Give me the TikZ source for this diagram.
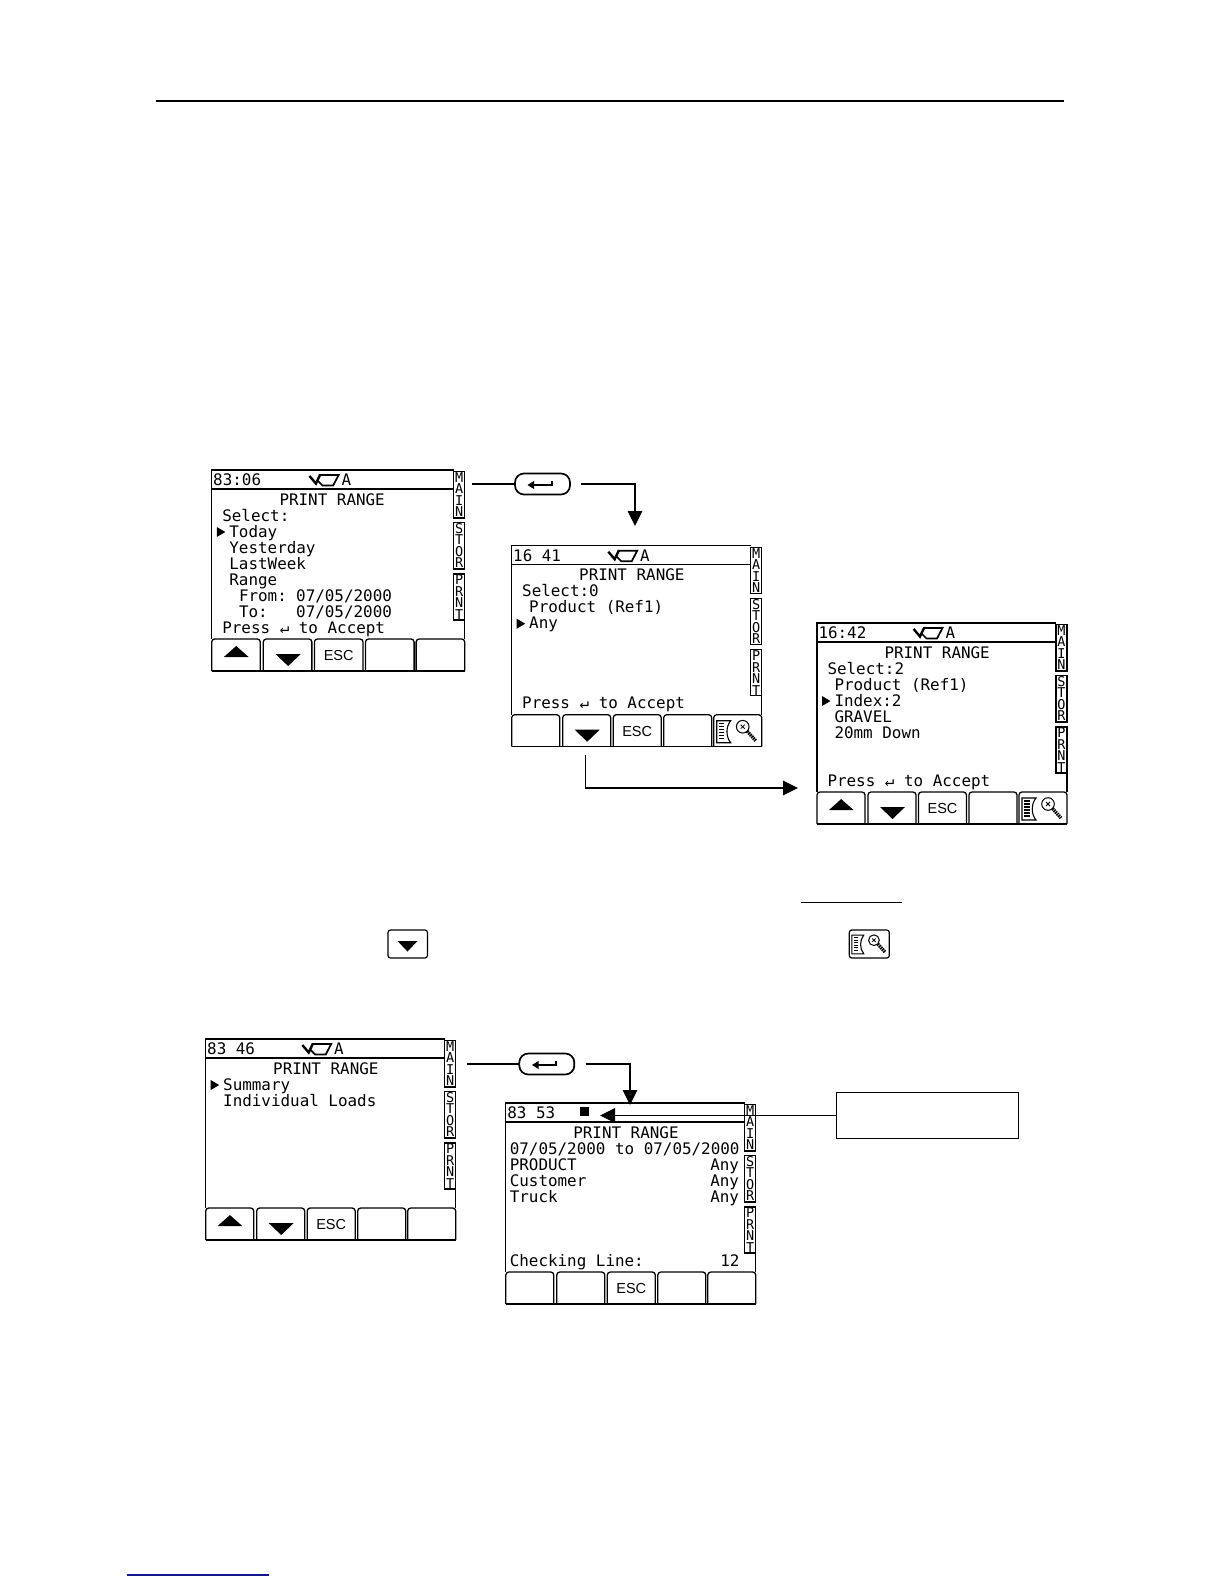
\documentclass[tikz,border=0pt]{standalone}
\usepackage{fontspec}
\usetikzlibrary{arrows.meta}
\newfontfamily\lcdfont{DejaVu Sans Mono}
\newfontfamily\keyfont{Liberation Sans}
\newcount\lcdn
\tikzset{
  lcdline/.style={line width=1.3pt,black},
  lcdtext/.style={anchor=base west,inner sep=0pt,outer sep=0pt,font=\lcdfont\fontsize{15.9}{16}\selectfont},
  tabtext/.style={anchor=center,inner sep=0pt,outer sep=0pt,font=\lcdfont\fontsize{13.5}{14}\selectfont},
  esctext/.style={anchor=center,inner sep=0pt,outer sep=0pt,font=\keyfont\fontsize{14.5}{15}\selectfont},
  conn/.style={line width=1.1pt,black},
  connarrow/.style={conn,-{Triangle[length=15pt,width=14.5pt]}},
  enterkey/.style={draw,line width=1.7pt,rounded corners=9pt,minimum width=55pt,minimum height=21pt,inner sep=0pt,outer sep=0pt},
  callout/.style={draw,line width=1.1pt,minimum width=182pt,minimum height=45.7pt,inner sep=0pt,outer sep=0pt}
}
% text on a numbered LCD line
\newcommand\lcdline[3]{\global\advance\lcdn by 1
  \node[lcdtext] (lcd\the\lcdn) at (#1,{35+16*(#2-1)}) {#3};}
\newcommand\lcdhead[2]{\global\advance\lcdn by 1
  \node[lcdtext] (lcd\the\lcdn) at (#1,15.5) {#2};}
\newcommand\tabletter[2]{\global\advance\lcdn by 1
  \node[tabtext] (lcd\the\lcdn) at (244.5,#1) {#2};}
\newcommand\lcdmark[1]{\fill (5,{25+16*(#1-1)}) -- (13.5,{30+16*(#1-1)}) -- (5,{35+16*(#1-1)}) -- cycle;}
\newcommand\softkey[1]{\draw[lcdline,rounded corners=3pt] (#1,201) -- (#1,169) -- (#1+48,169) -- (#1+48,201);}
\newcommand\upmark{\fill (12,187) -- (36.5,187) -- (24.2,176) -- cycle;}
\newcommand\downmark{\fill (63,184) -- (88,184) -- (75.5,196) -- cycle;}
\newcommand\esckey{\global\advance\lcdn by 1
  \node[esctext] (lcd\the\lcdn) at (125.5,185.5) {ESC};}
\newcommand\bucket{%
  \draw[line width=2.4pt] (96.6,6) -- (103,13.5) -- (107,5);
  \draw[line width=1.7pt] (106,5) -- (125.5,5) -- (120,15.5) -- (109.5,15.5) -- (105,11);
  \global\advance\lcdn by 1
  \node[lcdtext] (lcd\the\lcdn) at (128.5,15.5) {A};}
% document + magnifier glyph, local box 47 x 32
\newcommand\magglyph{%
  \draw[line width=1.1pt] (3,6) -- (17,6) .. controls (12,12) and (12,22) .. (17,28) -- (3,28) -- cycle;
  \foreach \yy in {9,12,15,18,21,24}{\draw[line width=1.2pt] (5,\yy) -- (10.5,\yy);}
  \draw[line width=1pt] (29,12) circle (6.3pt);
  \draw[line width=.8pt] (27,10) -- (31,14) (31,10) -- (27,14);
  \draw[line width=3.4pt,dash pattern=on 1.5pt off .8pt] (33.5,16.5) -- (42,26);
}
\newcommand\maginkey{\begin{scope}[shift={(202,169)}]\magglyph\end{scope}}
% the common frame of a screen
\newcommand\lcdframe{%
  \draw[lcdline] (239,0) -- (0,0) -- (0,169);
  \draw[lcdline] (0,19) -- (239,19);
  \draw[lcdline] (250,150) -- (250,169);
  \foreach \ty/\tb in {1.5/48,52.5/99,104/150}{\draw[lcdline] (239,\ty) -- (250,\ty) -- (250,\tb) -- (239,\tb) -- cycle;}
  \tabletter{7.5}{M}\tabletter{19}{A}\tabletter{30.5}{I}\tabletter{42}{N}
  \tabletter{58.5}{S}\tabletter{70}{T}\tabletter{81.5}{O}\tabletter{93}{R}
  \tabletter{110}{P}\tabletter{121.5}{R}\tabletter{133}{N}\tabletter{144.5}{T}
  \softkey{0}\softkey{51}\softkey{101.5}\softkey{152}\softkey{202}
  \draw[lcdline] (0,201) -- (250,201);
}
\begin{document}
\begin{tikzpicture}[x=1pt,y=-1pt]
\useasboundingbox (0,0) rectangle (1224,1584);
\fill[white] (0,0) rectangle (1224,1584);
% page rules
\draw[line width=1.9pt] (155.5,101) -- (1064,101);
\draw[line width=1.3pt] (801,902.5) -- (902,902.5);
\draw[line width=1.6pt,color={rgb,255:red,20;green,20;blue,140}] (126.7,1575) -- (268.7,1575);

% screen 1
\begin{scope}[shift={(211.7,470)},xscale=1.012]
  \lcdframe\bucket\upmark\downmark\esckey
  \lcdhead{1.5}{83:06}
  \lcdline{67}{1}{PRINT RANGE}
  \lcdline{10.5}{2}{Select:}
  \lcdmark{3}\lcdline{17.5}{3}{Today}
  \lcdline{17.5}{4}{Yesterday}
  \lcdline{17.5}{5}{LastWeek}
  \lcdline{17.5}{6}{Range}
  \lcdline{27}{7}{From:}\lcdline{83.5}{7}{07/05/2000}
  \lcdline{27}{8}{To:}\lcdline{83.5}{8}{07/05/2000}
  \lcdline{10.5}{9}{Press ↵ to Accept}
\end{scope}

% screen 2
\begin{scope}[shift={(511.7,545.7)}]
  \lcdframe\bucket\downmark\esckey\maginkey
  \lcdhead{1.5}{16 41}
  \lcdline{67.5}{1}{PRINT RANGE}
  \lcdline{10.5}{2}{Select:0}
  \lcdline{17.5}{3}{Product (Ref1)}
  \lcdmark{4}\lcdline{17.5}{4}{Any}
  \lcdline{10.5}{9}{Press ↵ to Accept}
\end{scope}

% screen 3
\begin{scope}[shift={(817,623)}]
  \lcdframe\bucket\upmark\downmark\esckey\maginkey
  \lcdhead{1.5}{16:42}
  \lcdline{67.5}{1}{PRINT RANGE}
  \lcdline{10.5}{2}{Select:2}
  \lcdline{17.5}{3}{Product (Ref1)}
  \lcdmark{4}\lcdline{17.5}{4}{Index:2}
  \lcdline{17.5}{5}{GRAVEL}
  \lcdline{17.5}{6}{20mm Down}
  \lcdline{10.5}{9}{Press ↵ to Accept}
\end{scope}

% screen 4
\begin{scope}[shift={(205.7,1039)}]
  \lcdframe\bucket\upmark\downmark\esckey
  \lcdhead{1.5}{83 46}
  \lcdline{67.5}{1}{PRINT RANGE}
  \lcdmark{2}\lcdline{17.5}{2}{Summary}
  \lcdline{17.5}{3}{Individual Loads}
\end{scope}

% screen 5
\begin{scope}[shift={(505.8,1103)}]
  \lcdframe\esckey
  \fill (73.7,4) rectangle (83,13);
  \lcdhead{1.5}{83 53}
  \lcdline{67.5}{1}{PRINT RANGE}
  \lcdline{4}{2}{07/05/2000 to 07/05/2000}
  \lcdline{4}{3}{PRODUCT}\lcdline{204.5}{3}{Any}
  \lcdline{4}{4}{Customer}\lcdline{204.5}{4}{Any}
  \lcdline{4}{5}{Truck}\lcdline{204.5}{5}{Any}
  \lcdline{4}{9}{Checking Line:}\lcdline{214.5}{9}{12}
\end{scope}

% stand-alone key pictures
\begin{scope}[shift={(388,930)}]
  \draw[line width=1.2pt,rounded corners=2.5pt] (0,0) rectangle (39.5,28);
  \fill (9.5,11) -- (29.5,11) -- (19.5,21.5) -- cycle;
\end{scope}
\begin{scope}[shift={(849.3,930)}]
  \draw[line width=1.2pt,rounded corners=2.5pt] (0,0) rectangle (40,28);
  \begin{scope}[scale=.85]\magglyph\end{scope}
\end{scope}

% connectors
\coordinate (out1) at (472.3,484);
\node[enterkey] (enter1) at (542.5,484) {};
\coordinate (enter1r) at (581,484);
\coordinate (tip1) at (635,526);
\draw[conn] (out1) -- (enter1);
\draw[connarrow] (enter1r) -| (tip1);
\draw[line width=2pt] (532,485) -- (551.5,485) -- (551.5,481);
\fill (527.5,485) -- (534,481) -- (534,489) -- cycle;

\coordinate (out2) at (585.7,755);
\coordinate (tip2) at (798,788);
\draw[connarrow] (out2) |- (tip2);

\coordinate (out4) at (466.7,1064);
\node[enterkey] (enter2) at (546.8,1064) {};
\coordinate (enter2r) at (585.7,1064);
\coordinate (tip4) at (630,1105);
\draw[conn] (out4) -- (enter2);
\draw[connarrow] (enter2r) -| (tip4);
\draw[line width=2pt] (536.5,1065) -- (556,1065) -- (556,1061);
\fill (532,1065) -- (538.5,1061) -- (538.5,1069) -- cycle;

\node[callout] (note) at (927.3,1115.5) {};
\coordinate (tip5) at (600,1115.5);
\draw[connarrow] (note.west) -- (tip5);
\end{tikzpicture}
\end{document}
